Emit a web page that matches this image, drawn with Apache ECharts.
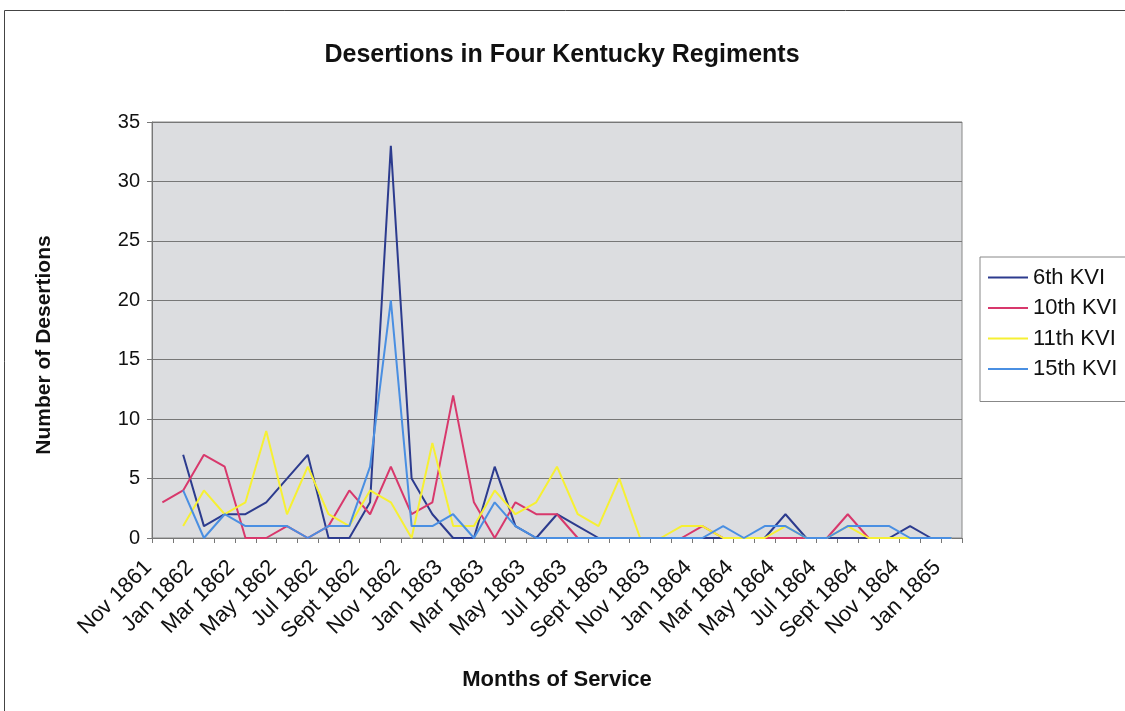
<!DOCTYPE html>
<html>
<head>
<meta charset="utf-8">
<script src="https://cdn.jsdelivr.net/npm/echarts@6/dist/echarts.min.js"></script>
<style>
html,body{margin:0;padding:0;background:#fff;}
#chart{width:1125px;height:711px;}
</style>
</head>
<body>
<div id="chart"></div>
<script>
// Categories (monthly, Nov 1861 - Jan 1865)
const months = [
  "Nov 1861","Dec 1861","Jan 1862","Feb 1862","Mar 1862","Apr 1862","May 1862","Jun 1862",
  "Jul 1862","Aug 1862","Sept 1862","Oct 1862","Nov 1862","Dec 1862","Jan 1863","Feb 1863",
  "Mar 1863","Apr 1863","May 1863","Jun 1863","Jul 1863","Aug 1863","Sept 1863","Oct 1863",
  "Nov 1863","Dec 1863","Jan 1864","Feb 1864","Mar 1864","Apr 1864","May 1864","Jun 1864",
  "Jul 1864","Aug 1864","Sept 1864","Oct 1864","Nov 1864","Dec 1864","Jan 1865"
];
const kvi6 = [null,7,1,2,2,3,5,7,0,0,3,33,5,2,0,0,6,1,0,2,1,0,0,0,0,0,0,0,0,0,2,0,0,0,0,0,1,0,0];
const kvi10 = [3,4,7,6,0,0,1,0,1,4,2,6,2,3,12,3,0,3,2,2,0,0,0,0,0,0,1,0,0,0,0,0,0,2,0,0,0,0,0];
const kvi11 = [null,1,4,2,3,9,2,6,2,1,4,3,0,8,1,1,4,2,3,6,2,1,5,0,0,1,1,0,0,0,1,0,0,1,0,0,0,0,0];
const kvi15 = [null,4,0,2,1,1,1,0,1,1,6,20,1,1,2,0,3,1,0,0,0,0,0,0,0,0,0,1,0,1,1,0,0,1,1,1,0,0,0];
const seriesNames = ["6th KVI","10th KVI","11th KVI","15th KVI"];
const yTicks = [0,5,10,15,20,25,30,35];

const colors = ["#2c3b8e","#d8386c","#f6f033","#4a8fe2"];
const font = "Liberation Sans, Arial, sans-serif";

const chart = echarts.init(document.getElementById('chart'));
const mk = (name, data, i) => ({
  name: name, type: 'line', data: data, symbol: 'none', connectNulls: false,
  lineStyle: {color: colors[i], width: 2}, itemStyle: {color: colors[i]}, z: 3 + i
});
chart.setOption({
  backgroundColor: '#ffffff',
  animation: false,
  title: {
    text: 'Desertions in Four Kentucky Regiments',
    left: 557, top: 38, textAlign: 'center',
    textStyle: {fontFamily: font, fontSize: 25, fontWeight: 'bold', color: '#111'}
  },
  graphic: [{
    type: 'rect', shape: {x: 4.5, y: 10.5, width: 1140, height: 730},
    style: {fill: 'none', stroke: '#444', lineWidth: 1}, silent: true, z: -1
  }],
  legend: {
    orient: 'vertical', left: 980, top: 257,
    data: seriesNames,
    icon: 'rect', itemWidth: 40, itemHeight: 2, itemGap: 7.5,
    backgroundColor: '#ffffff', borderColor: '#888', borderWidth: 1,
    padding: [9, 30, 21, 8],
    textStyle: {fontFamily: font, fontSize: 22, color: '#111', lineHeight: 23}
  },
  grid: {
    left: 152, top: 122, width: 810, height: 416,
    show: true, backgroundColor: '#dcdde0', borderColor: '#888', borderWidth: 1
  },
  xAxis: {
    type: 'category', data: months, boundaryGap: true,
    name: 'Months of Service', nameLocation: 'middle', nameGap: 131,
    nameTextStyle: {fontFamily: font, fontSize: 22, fontWeight: 'bold', color: '#111'},
    axisLine: {lineStyle: {color: '#777', width: 1}},
    axisTick: {show: true, interval: 0, length: 5, lineStyle: {color: '#777'}},
    axisLabel: {interval: 1, rotate: 45, fontFamily: font, fontSize: 22, color: '#111', margin: 12, padding: [0, 20, 0, 0]},
    splitLine: {show: false}
  },
  yAxis: {
    type: 'value', min: 0, max: 35, interval: 5,
    name: 'Number of Desertions', nameLocation: 'middle', nameGap: 97,
    nameTextStyle: {fontFamily: font, fontSize: 21, fontWeight: 'bold', color: '#111', padding: [0, 30, 0, 0]},
    axisLine: {show: true, lineStyle: {color: '#777'}},
    axisTick: {show: true, length: 5, lineStyle: {color: '#777'}},
    axisLabel: {fontFamily: font, fontSize: 20, color: '#111', margin: 12},
    splitLine: {show: true, lineStyle: {color: '#777', width: 1}}
  },
  series: [mk(seriesNames[0], kvi6, 0), mk(seriesNames[1], kvi10, 1), mk(seriesNames[2], kvi11, 2), mk(seriesNames[3], kvi15, 3)]
});
</script>
</body>
</html>
